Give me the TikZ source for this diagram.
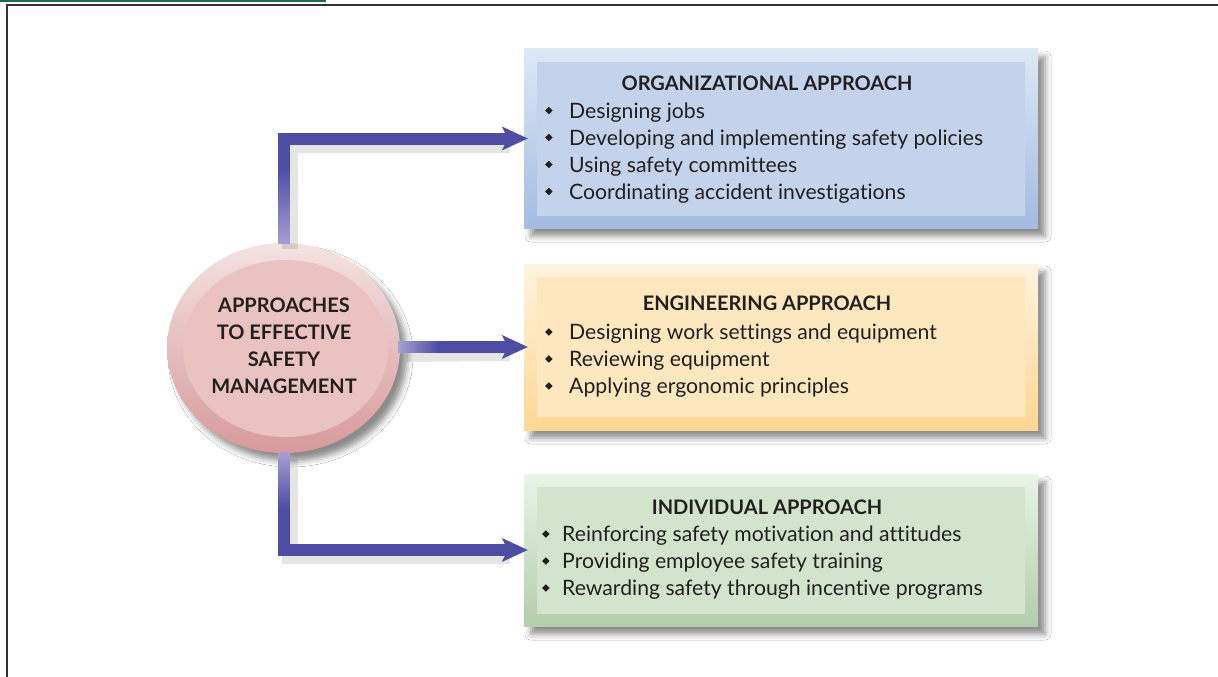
\documentclass[tikz,border=0pt]{standalone}
\usepackage{fontspec}
\setmainfont{Lato}[Ligatures={NoCommon}]
\usetikzlibrary{shapes.geometric,arrows.meta,shadows.blur,fadings,calc}
\definecolor{txt}{HTML}{231F20}
\definecolor{orgtop}{HTML}{DCE8F6}
\definecolor{orgbot}{HTML}{A3BCE0}
\definecolor{orgin}{HTML}{C4D3EC}
\definecolor{engtop}{HTML}{FDF3DE}
\definecolor{engbot}{HTML}{FDD793}
\definecolor{engin}{HTML}{FDE7BE}
\definecolor{indtop}{HTML}{EAF3E7}
\definecolor{indbot}{HTML}{B2CEAA}
\definecolor{indin}{HTML}{D3E4CD}
\definecolor{arrdark}{HTML}{4D4EA3}
\definecolor{arrlight}{HTML}{A89FD3}
\definecolor{elltop}{HTML}{F4E2E2}
\definecolor{ellbot}{HTML}{D79A9A}
\definecolor{ellin}{HTML}{EAC3C1}
\definecolor{greenline}{HTML}{1B6B4F}
\definecolor{framegray}{HTML}{333333}
\newcommand{\bul}{\makebox[24pt][l]{\raisebox{0.2em}{\rotatebox{45}{\rule{5.2pt}{5.2pt}}}}}
\newcommand{\bulb}{\makebox[20pt][l]{\raisebox{0.2em}{\rotatebox{45}{\rule{5.2pt}{5.2pt}}}}}
\tikzset{
  outerbox/.style={rectangle, minimum width=514pt, inner sep=0pt, draw=none,
    blur shadow={shadow xshift=7pt, shadow yshift=-8pt, shadow blur radius=6pt, shadow opacity=45}},
  innerbox/.style={rectangle, minimum width=488pt, inner sep=0pt, draw=none},
  titletext/.style={font=\bfseries\fontsize{20}{24}\selectfont, text=txt, inner sep=0pt},
  listtext/.style={font=\fontsize{21.2}{27}\selectfont, text=txt, align=left, inner sep=0pt, anchor=west},
  conn/.style={line width=12pt, draw=arrdark, line join=miter,
    -{Stealth[length=26pt, width=24pt, inset=6pt, line width=0pt]}, shorten >=-4pt},
  connshadow/.style={line width=16pt, draw=black, opacity=0.10, line join=miter},
  fadeover/.style={fill=arrlight, draw=none},
}
\begin{document}
\begin{tikzpicture}[x=1pt,y=-1pt]
\useasboundingbox (0,0) rectangle (1218,677);
\fill[white] (0,0) rectangle (1218,677);
% header remnants and frame
\fill[greenline] (0,0) rectangle (326,2.2);
\draw[line width=2pt, framegray] (6.5,677) -- (6.5,5.5) -- (1218,5.5);

% boxes
\node[outerbox, minimum height=179pt, top color=orgtop, bottom color=orgbot] (org) at (781,138.5) {};
\node[innerbox, minimum height=154pt, fill=orgin] (orgi) at (781,139) {};
\node[outerbox, minimum height=166pt, top color=engtop, bottom color=engbot] (eng) at (781,347) {};
\node[innerbox, minimum height=140pt, fill=engin] (engi) at (781,347) {};
\node[outerbox, minimum height=152pt, top color=indtop, bottom color=indbot] (ind) at (781,550) {};
\node[innerbox, minimum height=127pt, fill=indin] (indi) at (781,550.5) {};

% ellipse
\node[ellipse, minimum width=233pt, minimum height=210pt, inner sep=0pt, top color=elltop, bottom color=ellbot,
  blur shadow={shadow xshift=7pt, shadow yshift=-8pt, shadow blur radius=6pt, shadow opacity=45}] (ell) at (283.5,348) {};
\node[ellipse, minimum width=205pt, minimum height=177pt, inner sep=0pt, fill=ellin] (elli) at (285.5,348.5) {};
\node[font=\bfseries\fontsize{20}{27}\selectfont, text=txt, align=center, inner sep=0pt] (elltxt) at (284,346)
  {APPROACHES\\TO EFFECTIVE\\SAFETY\\MANAGEMENT};

% connector shadows
\draw[connshadow, transform canvas={shift={(6pt,-6pt)}}] (ell.north) |- ($(org.west)+(-20,0)$);
\draw[connshadow, transform canvas={shift={(6pt,-6pt)}}] (ell.east) -- ($(eng.west)+(-20,0)$);
\draw[connshadow, transform canvas={shift={(6pt,-6pt)}}] (ell.south) |- ($(ind.west)+(-20,0)$);

% connectors
\draw[conn] (ell.north) |- (org.west);
\draw[conn] (ell.east |- eng.west) -- (eng.west);
\draw[conn] (ell.south) |- (ind.west);

% gradient overlays near the ellipse
\path[fadeover, path fading=north] ($(ell.north)+(-6,1)$) rectangle ($(ell.north)+(6,-75)$);
\path[fadeover, path fading=east] ($(ell.east |- eng.west)+(-2,-6)$) rectangle ($(ell.east |- eng.west)+(38,6)$);
\path[fadeover, path fading=south] ($(ell.south)+(-6,-1)$) rectangle ($(ell.south)+(6,55)$);

% texts
\node[titletext] (orgt) at (767,83) {ORGANIZATIONAL APPROACH};
\node[listtext] (orgl) at (545,153) {\bul Designing jobs\\\bul Developing and implementing safety policies\\\bul Using safety committees\\\bul Coordinating accident investigations};
\node[titletext] (engt) at (767,303) {ENGINEERING APPROACH};
\node[listtext] (engl) at (545,361) {\bul Designing work settings and equipment\\\bul Reviewing equipment\\\bul Applying ergonomic principles};
\node[titletext] (indt) at (767,507) {INDIVIDUAL APPROACH};
\node[listtext] (indl) at (542,563) {\bulb Reinforcing safety motivation and attitudes\\\bulb Providing employee safety training\\\bulb Rewarding safety through incentive programs};
\end{tikzpicture}
\end{document}
